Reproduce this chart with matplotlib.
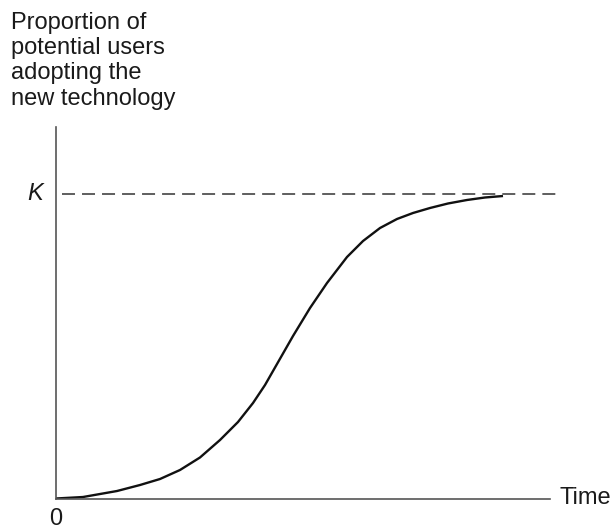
import matplotlib
matplotlib.use("Agg")
import matplotlib.pyplot as plt

plt.rcParams['font.family'] = ['Liberation Sans', 'DejaVu Sans']

# points (time axis 0-100, proportion with K = 1)
time = [0, 5.47, 12.35, 17.00, 21.05, 25.10, 29.15, 33.20, 36.84, 39.88, 42.31, 44.74,
        47.98, 51.42, 54.86, 58.91, 62.15, 65.59, 69.03, 72.27, 75.71, 79.35, 83.20,
        86.84, 90.49]
share = [0, 0.0049, 0.0246, 0.0443, 0.0640, 0.0936, 0.1347, 0.1921, 0.2512, 0.3136,
         0.3727, 0.4417, 0.5337, 0.6256, 0.7077, 0.7931, 0.8456, 0.8883, 0.9179,
         0.9376, 0.9540, 0.9688, 0.9803, 0.9885, 0.9934]
K = 1.0
y_label = "Proportion of\npotential users\nadopting the\nnew technology"
x_label = "Time"

fig = plt.figure(figsize=(6.14, 5.30), dpi=100)
ax = fig.add_axes([56 / 614, 31.5 / 530, 494 / 614, 371.5 / 530])
ax.set_xlim(0, 100)
ax.set_ylim(0, 1.22)

ax.plot(time, share, color="#111111", lw=1.7, solid_joinstyle="round", solid_capstyle="butt")
ax.plot([1.3, 101.2], [K, K], color="#333333", lw=1.1, dashes=(8.5, 4.6), clip_on=False)

for s in ["top", "right"]:
    ax.spines[s].set_visible(False)
for s in ["left", "bottom"]:
    ax.spines[s].set_color("#555555")
    ax.spines[s].set_linewidth(1.2)
ax.set_xticks([])
ax.set_yticks([])

txt = "#1a1a1a"
ax.text(-2.6, K, "K", style="italic", fontsize=17, ha="right", va="center", color=txt)
ax.text(0, -0.03, "0", fontsize=17, ha="center", va="top", color=txt)
ax.text(2 + 100, 0, x_label, fontsize=17, ha="left", va="center", clip_on=False, color=txt)
fig.text(11 / 614, 1 - 12 / 530, y_label, fontsize=17, ha="left", va="top",
         linespacing=1.19, color=txt)

fig.savefig("out.png", dpi=100)
